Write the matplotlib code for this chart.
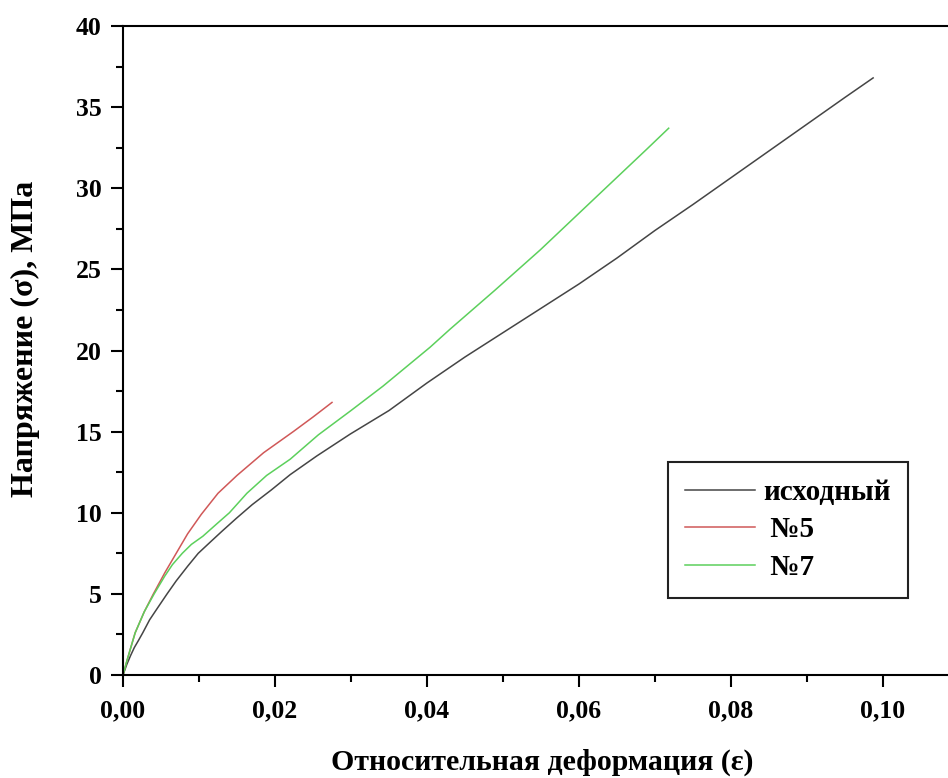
import matplotlib
matplotlib.use('Agg')
import matplotlib.pyplot as plt
from matplotlib.ticker import MultipleLocator, FuncFormatter

plt.rcParams['font.family'] = ['Liberation Serif', 'DejaVu Serif']
plt.rcParams['font.weight'] = 'bold'

# --- данные ---
eps_base = [0, 0.0005, 0.001, 0.0015, 0.002, 0.0026, 0.0035, 0.0045, 0.0058, 0.007,
            0.0085, 0.0099, 0.0115, 0.013, 0.0149, 0.017, 0.0195, 0.022, 0.0255, 0.0299,
            0.035, 0.040, 0.045, 0.050, 0.055, 0.060, 0.065, 0.070, 0.075, 0.080,
            0.085, 0.090, 0.095, 0.0987]
sig_base = [0, 0.65, 1.2, 1.7, 2.1, 2.6, 3.4, 4.1, 5.0, 5.8,
            6.7, 7.5, 8.2, 8.85, 9.65, 10.5, 11.4, 12.35, 13.5, 14.85,
            16.3, 18.0, 19.6, 21.1, 22.6, 24.1, 25.7, 27.4, 29.0, 30.65,
            32.3, 33.95, 35.6, 36.8]

eps_5 = [0, 0.0005, 0.001, 0.0016, 0.0028, 0.004, 0.0055, 0.007, 0.0085, 0.0103,
         0.0125, 0.015, 0.0185, 0.0224, 0.025, 0.0275]
sig_5 = [0, 0.85, 1.65, 2.6, 3.9, 5.0, 6.3, 7.5, 8.7, 9.9,
         11.2, 12.3, 13.7, 15.0, 15.9, 16.8]

eps_7 = [0, 0.0005, 0.001, 0.0016, 0.0028, 0.0041, 0.0055, 0.0065, 0.0078, 0.009,
         0.0105, 0.0123, 0.014, 0.0163, 0.0189, 0.022, 0.0257, 0.030, 0.0342, 0.0404,
         0.043, 0.0489, 0.0549, 0.0628, 0.0689, 0.0718]
sig_7 = [0, 0.85, 1.65, 2.6, 3.9, 5.0, 6.1, 6.8, 7.5, 8.05,
         8.55, 9.3, 10.0, 11.2, 12.3, 13.3, 14.8, 16.3, 17.8, 20.2,
         21.3, 23.7, 26.2, 29.7, 32.4, 33.7]

labels = ['исходный', ' №5', ' №7']
colors = ['#454545', '#d05858', '#5cd05c']

# --- рисунок ---
W, H = 948, 778
fig = plt.figure(figsize=(W / 100, H / 100), dpi=100)
ax = fig.add_axes([123 / W, (H - 675) / H, 836 / W, 649 / H])

ax.plot(eps_base, sig_base, color=colors[0], lw=1.1, label=labels[0])
ax.plot(eps_5, sig_5, color=colors[1], lw=1.1, label=labels[1])
ax.plot(eps_7, sig_7, color=colors[2], lw=1.1, label=labels[2])

ax.set_xlim(0, 0.11)
ax.set_ylim(0, 40)
ax.xaxis.set_major_locator(MultipleLocator(0.02))
ax.xaxis.set_minor_locator(MultipleLocator(0.01))
ax.yaxis.set_major_locator(MultipleLocator(5))
ax.yaxis.set_minor_locator(MultipleLocator(2.5))
ax.xaxis.set_major_formatter(FuncFormatter(lambda v, p: f'{v:.2f}'.replace('.', ',')))
ax.yaxis.set_major_formatter(FuncFormatter(lambda v, p: f'{v:.0f}'))

ax.tick_params(which='both', direction='out', width=1.5, top=False, right=False)
ax.tick_params(which='major', length=8.5, labelsize=18.5)
ax.tick_params(axis='y', which='major', pad=7)
ax.tick_params(axis='x', which='major', pad=9)
ax.tick_params(which='minor', length=5)
for s in ax.spines.values():
    s.set_linewidth(1.5)

fig.text(542 / W, 8 / H, 'Относительная деформация (ε)', ha='center', va='baseline',
         rotation_mode='anchor', fontsize=21.5, fontweight='bold')
fig.text(33 / W, 1 - 339 / H, 'Напряжение (σ), МПа', ha='center', va='baseline',
         rotation=90, rotation_mode='anchor', fontsize=23, fontweight='bold')

leg = ax.legend(loc='upper left', bbox_to_anchor=(668 / W, 1 - 462 / H),
                bbox_transform=fig.transFigure, borderaxespad=0, fancybox=False,
                edgecolor='#222222', fontsize=21, handlelength=2.4, handletextpad=0.28,
                labelspacing=0.36, borderpad=0.58, framealpha=1)
leg.get_frame().set_linewidth(1.5)

fig.savefig('out.png', dpi=100)
